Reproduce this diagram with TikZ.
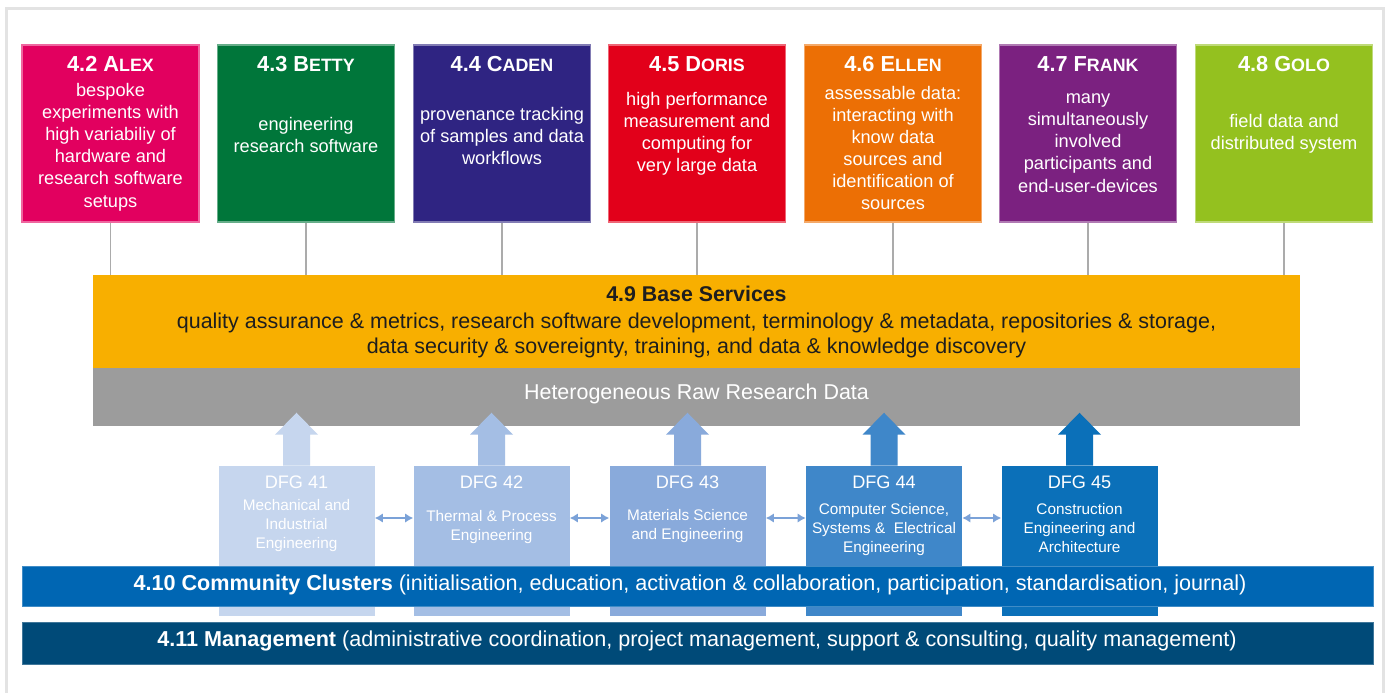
\documentclass[tikz,border=0pt]{standalone}
\usepackage{fontspec}
\setmainfont{Liberation Sans}
\usetikzlibrary{arrows.meta,calc}
\definecolor{cAlex}{HTML}{E2005F}
\definecolor{cBetty}{HTML}{00763A}
\definecolor{cCaden}{HTML}{2F2482}
\definecolor{cDoris}{HTML}{E2001A}
\definecolor{cEllen}{HTML}{EC6F05}
\definecolor{cFrank}{HTML}{7B2180}
\definecolor{cGolo}{HTML}{94C11F}
\definecolor{cOrange}{HTML}{F8AF00}
\definecolor{cGray}{HTML}{9C9C9C}
\definecolor{cText}{HTML}{1E1E1E}
\definecolor{cLine}{HTML}{ABABAB}
\definecolor{cFrame}{HTML}{E3E3E3}
\definecolor{cDa}{HTML}{C6D6EE}
\definecolor{cDb}{HTML}{A4BEE4}
\definecolor{cDc}{HTML}{89AADB}
\definecolor{cDd}{HTML}{3F87C9}
\definecolor{cDe}{HTML}{0B70B9}
\definecolor{cDbl}{HTML}{7BA2D8}
\definecolor{cComm}{HTML}{0066B3}
\definecolor{cMgmt}{HTML}{004A78}
\newcommand\fsc[1]{{\fontsize{13.4}{14}\selectfont #1}}
\newcommand\dfgarrow[2]{\fill[#2] ($(#1.north)+(-13.5,0)$) -- ($(#1.north)+(-13.5,-31)$) -- ($(#1.north)+(-21.5,-31)$) -- ($(#1.north)+(0,-53)$) -- ($(#1.north)+(21.5,-31)$) -- ($(#1.north)+(13.5,-31)$) -- ($(#1.north)+(13.5,0)$) -- cycle;}
\begin{document}
\begin{tikzpicture}[x=0.75pt,y=-0.75pt,
 topbox/.style={fill=#1, draw=#1!60!white, line width=0.8pt, minimum width=132.75pt, minimum height=132.75pt, inner sep=0pt},
 ttl/.style={text=white, font=\fontsize{16.3}{18}\selectfont\bfseries, anchor=base, inner sep=0pt},
 bodytxt/.style={text=white, align=center, font=\fontsize{13.65}{16.6}\selectfont, inner sep=0pt},
 conn/.style={draw=cLine, line width=1.1pt},
 dfgbox/.style={fill=#1, minimum width=117pt, minimum height=112.5pt, inner sep=0pt},
 dfgttl/.style={text=white, font=\fontsize{13.6}{16}\selectfont, inner sep=0pt},
 dfgtxt/.style={text=white, align=center, font=\fontsize{11.5}{13.9}\selectfont, inner sep=0pt},
 dbl/.style={draw=cDbl, line width=1.5pt, {Latex[length=6pt,width=7pt]}-{Latex[length=6pt,width=7pt]}},
 bar/.style={fill=#1, draw=#1!75!white, line width=0.6pt, minimum width=1013.25pt, inner sep=0pt},
 bartxt/.style={text=white, font=\fontsize{16.2}{18}\selectfont, inner sep=0pt},
]
\useasboundingbox (0,0) rectangle (1389,693);
\fill[white] (0,0) rectangle (1389,693);
\draw[draw=cFrame, line width=2.25pt] (6,693) -- (6,8) -- (1383,8) -- (1383,693);

% base services
\node[fill=cOrange, minimum width=905.25pt, minimum height=69.75pt, inner sep=0pt] (base) at (696.5,321.5) {};
\node[fill=cGray, minimum width=905.25pt, minimum height=43.5pt, inner sep=0pt] (raw) at (696.5,397) {};

% top boxes
\node[topbox=cAlex]  (alex)  at (110.5,133.5) {};
\node[topbox=cBetty] (betty) at (306,133.5) {};
\node[topbox=cCaden] (caden) at (502,133.5) {};
\node[topbox=cDoris] (doris) at (697,133.5) {};
\node[topbox=cEllen] (ellen) at (893,133.5) {};
\node[topbox=cFrank] (frank) at (1088,133.5) {};
\node[topbox=cGolo]  (golo)  at (1284,133.5) {};

\foreach \n in {alex,betty,caden,doris,ellen,frank,golo}
  \draw[conn] (\n.south) -- (\n.south |- base.north);

\node[ttl] (talex)  at (110.5,71) {4.2 A\fsc{LEX}};
\node[ttl] (tbetty) at (306,71) {4.3 B\fsc{ETTY}};
\node[ttl] (tcaden) at (502,71) {4.4 C\fsc{ADEN}};
\node[ttl] (tdoris) at (697,71) {4.5 D\fsc{ORIS}};
\node[ttl] (tellen) at (893,71) {4.6 E\fsc{LLEN}};
\node[ttl] (tfrank) at (1088,71) {4.7 F\fsc{RANK}};
\node[ttl] (tgolo)  at (1284,71) {4.8 G\fsc{OLO}};

\node[bodytxt] (balex)  at (110.5,147) {bespoke\\experiments with\\high variabiliy of\\hardware and\\research software\\setups};
\node[bodytxt] (bbetty) at (306,135) {engineering\\research software};
\node[bodytxt] (bcaden) at (502,136) {provenance tracking\\of samples and data\\workflows};
\node[bodytxt] (bdoris) at (697,134) {high performance\\measurement and\\computing for\\very large data};
\node[bodytxt] (bellen) at (893,148) {assessable data:\\interacting with\\know data\\sources and\\identification of\\sources};
\node[bodytxt] (bfrank) at (1088,143) {many\\simultaneously\\involved\\participants and\\end-user-devices};
\node[bodytxt] (bgolo)  at (1284,134) {field data and\\distributed system};

% base texts
\node[font=\fontsize{16}{18}\selectfont\bfseries, text=cText, anchor=base, inner sep=0pt] (btitle) at (696.5,301) {4.9 Base Services};
\node[font=\fontsize{16.1}{18.75}\selectfont, text=cText, align=center, inner sep=0pt] (btext) at (696.5,335.5) {quality assurance \& metrics, research software development, terminology \& metadata, repositories \& storage,\\data security \& sovereignty, training, and data \& knowledge discovery};
\node[font=\fontsize{16.1}{18}\selectfont, text=white, inner sep=0pt] (rawtxt) at (696.5,394) {Heterogeneous Raw Research Data};

% DFG boxes
\node[dfgbox=cDa] (d41) at (296.5,541) {};
\node[dfgbox=cDb] (d42) at (491.5,541) {};
\node[dfgbox=cDc] (d43) at (687.5,541) {};
\node[dfgbox=cDd] (d44) at (884,541) {};
\node[dfgbox=cDe] (d45) at (1079.5,541) {};
\dfgarrow{d41}{cDa}
\dfgarrow{d42}{cDb}
\dfgarrow{d43}{cDc}
\dfgarrow{d44}{cDd}
\dfgarrow{d45}{cDe}
\draw[dbl] ([yshift=17.25pt]d41.east) -- ([yshift=17.25pt]d42.west);
\draw[dbl] ([yshift=17.25pt]d42.east) -- ([yshift=17.25pt]d43.west);
\draw[dbl] ([yshift=17.25pt]d43.east) -- ([yshift=17.25pt]d44.west);
\draw[dbl] ([yshift=17.25pt]d44.east) -- ([yshift=17.25pt]d45.west);

\node[dfgttl] (t41) at (296.5,482) {DFG 41};
\node[dfgttl] (t42) at (491.5,482) {DFG 42};
\node[dfgttl] (t43) at (687.5,482) {DFG 43};
\node[dfgttl] (t44) at (884,482) {DFG 44};
\node[dfgttl] (t45) at (1079.5,482) {DFG 45};
\node[dfgtxt] (s41) at (296.5,525.5) {Mechanical and\\Industrial\\Engineering};
\node[dfgtxt] (s42) at (491.5,527) {Thermal \& Process\\Engineering};
\node[dfgtxt] (s43) at (687.5,526) {Materials Science\\and Engineering};
\node[dfgtxt] (s44) at (884,529.5) {Computer Science,\\Systems \&\ \ Electrical\\Engineering};
\node[dfgtxt] (s45) at (1079.5,528) {Construction\\Engineering and\\Architecture};

% bars
\node[bar=cComm, minimum height=30pt] (comm) at (697.5,586) {};
\node[bar=cMgmt, minimum height=31.5pt] (mgmt) at (697.5,643) {};
\node[bartxt] (commtxt) at (690,585) {\textbf{4.10 Community Clusters} (initialisation, education, activation \& collaboration, participation, standardisation, journal)};
\node[bartxt] (mgmttxt) at (697,641) {\textbf{4.11 Management} (administrative coordination, project management, support \& consulting, quality management)};
\end{tikzpicture}
\end{document}
